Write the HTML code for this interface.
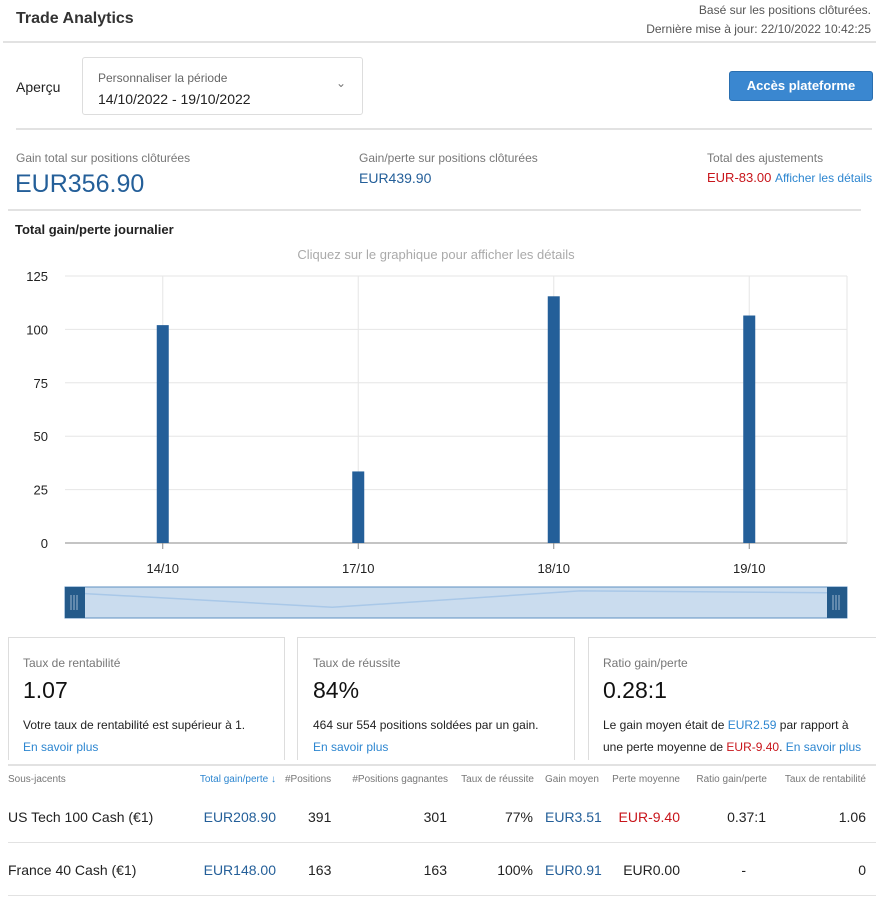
<!DOCTYPE html>
<html><head><meta charset="utf-8"><style>
body{margin:0;width:876px;height:900px;background:#fff;font-family:"Liberation Sans",sans-serif;color:#222;position:relative;overflow:hidden}
.a{position:absolute;white-space:nowrap}
.hr{position:absolute;height:2px;background:#e2e2e2}
.blue{color:#245f99}.lb{color:#2d86d0}.red{color:#c8151b}.g{color:#777}
.card{position:absolute;top:637px;height:122px;border:1px solid #ddd;border-bottom:none}
</style></head><body>
<div class="a" style="left:16px;top:10px;font-size:16px;font-weight:bold;color:#333">Trade Analytics</div>
<div class="a g" style="right:5px;top:3px;font-size:12px;color:#555">Basé sur les positions clôturées.</div>
<div class="a" style="right:5px;top:22px;font-size:12px;color:#555">Dernière mise à jour: 22/10/2022 10:42:25</div>
<div class="hr" style="left:3px;top:41px;width:873px"></div>
<div class="a" style="left:16px;top:79px;font-size:14px">Aperçu</div>
<div class="a" style="left:82px;top:57px;width:279px;height:56px;border:1px solid #ddd;border-radius:3px">
<div class="a" style="left:15px;top:13px;font-size:12px;color:#666">Personnaliser la période</div>
<div class="a" style="left:15px;top:33px;font-size:14px">14/10/2022 - 19/10/2022</div>
<div class="a" style="left:253px;top:18px;font-size:12px;color:#777">&#8964;</div></div>
<div class="a" style="left:729px;top:71px;width:142px;height:28px;background:#3a87d0;border:1px solid #2a6fb0;border-radius:3px;color:#fff;font-size:13px;font-weight:bold;text-align:center;line-height:28px">Accès plateforme</div>
<div class="hr" style="left:16px;top:128px;width:856px"></div>
<div class="a g" style="left:16px;top:151px;font-size:12px">Gain total sur positions clôturées</div>
<div class="a blue" style="left:15px;top:170px;font-size:25px">EUR356.90</div>
<div class="a g" style="left:359px;top:151px;font-size:12px">Gain/perte sur positions clôturées</div>
<div class="a blue" style="left:359px;top:170px;font-size:14px">EUR439.90</div>
<div class="a g" style="left:707px;top:151px;font-size:12px">Total des ajustements</div>
<div class="a" style="left:707px;top:170px;font-size:13px"><span class="red">EUR-83.00</span> <span class="lb" style="font-size:12px">Afficher les détails</span></div>
<div class="hr" style="left:8px;top:209px;width:853px"></div>
<div class="a" style="left:15px;top:222px;font-size:13px;font-weight:bold">Total gain/perte journalier</div>
<svg class="a" style="left:0;top:240px" width="876" height="390" id="ch"></svg>
<div class="card" style="left:8px;width:275px"></div>
<div class="card" style="left:297px;width:276px"></div>
<div class="card" style="left:588px;width:290px;border-right:none"></div>
<div class="a g" style="left:23px;top:656px;font-size:12px">Taux de rentabilité</div>
<div class="a" style="left:23px;top:677px;font-size:23px;color:#111">1.07</div>
<div class="a" style="left:23px;top:718px;font-size:12px">Votre taux de rentabilité est supérieur à 1.</div>
<div class="a lb" style="left:23px;top:740px;font-size:12px">En savoir plus</div>
<div class="a g" style="left:313px;top:656px;font-size:12px">Taux de réussite</div>
<div class="a" style="left:313px;top:677px;font-size:23px;color:#111">84%</div>
<div class="a" style="left:313px;top:718px;font-size:12px">464 sur 554 positions soldées par un gain.</div>
<div class="a lb" style="left:313px;top:740px;font-size:12px">En savoir plus</div>
<div class="a g" style="left:603px;top:656px;font-size:12px">Ratio gain/perte</div>
<div class="a" style="left:603px;top:677px;font-size:23px;color:#111">0.28:1</div>
<div class="a" style="left:603px;top:718px;font-size:12px">Le gain moyen était de <span class="lb">EUR2.59</span> par rapport à</div>
<div class="a" style="left:603px;top:740px;font-size:12px">une perte moyenne de <span class="red">EUR-9.40</span>. <span class="lb">En savoir plus</span></div>
<div class="hr" style="left:8px;top:764px;width:868px"></div>
<div>
<div class="a g" style="left:8px;top:774px;font-size:10px">Sous-jacents</div>
<div class="a lb" style="right:600px;top:774px;font-size:10px">Total gain/perte ↓</div>
<div class="a g" style="left:285px;top:774px;font-size:10px">#Positions</div>
<div class="a g" style="right:428px;top:774px;font-size:10px">#Positions gagnantes</div>
<div class="a g" style="right:342px;top:774px;font-size:10px">Taux de réussite</div>
<div class="a g" style="left:545px;top:774px;font-size:10px">Gain moyen</div>
<div class="a g" style="right:196px;top:774px;font-size:10px">Perte moyenne</div>
<div class="a g" style="right:109px;top:774px;font-size:10px">Ratio gain/perte</div>
<div class="a g" style="right:10px;top:774px;font-size:10px">Taux de rentabilité</div>
<div class="a" style="left:8px;top:809px;font-size:14px">US Tech 100 Cash (€1)</div>
<div class="a blue" style="right:600px;top:809px;font-size:14px">EUR208.90</div>
<div class="a" style="left:308px;top:809px;font-size:14px">391</div>
<div class="a" style="right:429px;top:809px;font-size:14px">301</div>
<div class="a" style="right:343px;top:809px;font-size:14px">77%</div>
<div class="a blue" style="left:545px;top:809px;font-size:14px">EUR3.51</div>
<div class="a red" style="right:196px;top:809px;font-size:14px">EUR-9.40</div>
<div class="a" style="right:110px;top:809px;font-size:14px">0.37:1</div>
<div class="a" style="right:10px;top:809px;font-size:14px">1.06</div>
<div class="hr" style="left:8px;top:842px;width:868px;height:1px"></div>
<div class="a" style="left:8px;top:862px;font-size:14px">France 40 Cash (€1)</div>
<div class="a blue" style="right:600px;top:862px;font-size:14px">EUR148.00</div>
<div class="a" style="left:308px;top:862px;font-size:14px">163</div>
<div class="a" style="right:429px;top:862px;font-size:14px">163</div>
<div class="a" style="right:343px;top:862px;font-size:14px">100%</div>
<div class="a blue" style="left:545px;top:862px;font-size:14px">EUR0.91</div>
<div class="a" style="right:196px;top:862px;font-size:14px">EUR0.00</div>
<div class="a" style="right:130px;top:862px;font-size:14px">-</div>
<div class="a" style="right:10px;top:862px;font-size:14px">0</div>
<div class="hr" style="left:8px;top:895px;width:868px;height:1px"></div>
</div>
<script>
const categories=["14/10","17/10","18/10","19/10"];
const values=[102,33.5,115.5,106.5];
const yTicks=[0,25,50,75,100,125];
const NS="http://www.w3.org/2000/svg",s=document.getElementById('ch');
const X0=65,X1=847,Y0=303,Y1=36,YMAX=125;
const y=v=>Y0-(v/YMAX)*(Y0-Y1);
const step=(X1-X0)/categories.length;
const x=i=>X0+step*(i+0.5);
function m(t,a,txt){const e=document.createElementNS(NS,t);for(const k in a)e.setAttribute(k,a[k]);if(txt!=null)e.textContent=txt;s.appendChild(e);return e;}
let h=m('text',{x:436,y:19,'text-anchor':'middle','font-size':13,fill:'#aaa'},'Cliquez sur le graphique pour afficher les détails');


yTicks.forEach(t=>{m('line',{x1:X0,x2:X1,y1:y(t),y2:y(t),stroke:t?'#e6e6e6':'#888'});
const l=m('text',{x:48,y:y(t)+5,'text-anchor':'end','font-size':13,fill:'#222'},t);

});
categories.forEach((c,i)=>{m('line',{x1:x(i),x2:x(i),y1:Y1,y2:Y0,stroke:'#e6e6e6'});
m('line',{x1:x(i),x2:x(i),y1:Y0,y2:Y0+6,stroke:'#888'});
const l=m('text',{x:x(i),y:Y0+30,'text-anchor':'middle','font-size':13,fill:'#222'},c);


const b=m('rect',{x:x(i)-6,y:y(values[i]),width:12,height:Y0-y(values[i]),fill:'#245f99'});

});
m('line',{x1:X0,x2:X1,y1:Y1,y2:Y1,stroke:'#e6e6e6'});
m('line',{x1:X1,x2:X1,y1:Y1,y2:Y0,stroke:'#e6e6e6'});
// navigator
const NT=347,NB=378;
const nav=m('rect',{x:X0,y:NT,width:X1-X0,height:NB-NT,fill:'#cadcee',stroke:'#5d8fc0'});


const ny=v=>NB-4-(v/YMAX)*(NB-NT-6);
const nx=i=>X0+20+(X1-X0-40)*i/(categories.length-1);
m('polyline',{points:values.map((v,i)=>nx(i)+','+ny(v)).join(' '),fill:'none',stroke:'#a9c8e8','stroke-width':1.5});
[X0,X1-20].forEach((hx,k)=>{const r=m('rect',{x:hx,y:NT,width:20,height:NB-NT,fill:'#245a8a'});


[6,9,12].forEach(d=>m('line',{x1:hx+d,x2:hx+d,y1:NT+8,y2:NB-8,stroke:'#9fb8d0'}));});
</script>
</body></html>
